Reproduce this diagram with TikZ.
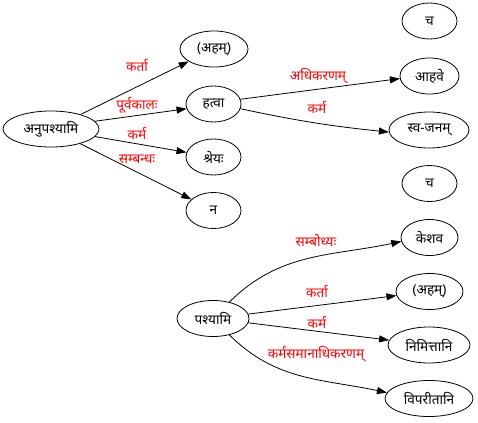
\documentclass[tikz,border=0pt]{standalone}
\usepackage{fontspec}
\newfontfamily\deva[Script=Devanagari]{Noto Sans}
\usetikzlibrary{shapes.geometric,arrows.meta}
\definecolor{ink}{HTML}{000000}
\definecolor{karaka}{HTML}{FF0000}
\newcommand{\word}[4]{\node[ellipse,draw=ink,line width=0.8pt,inner sep=0pt,minimum width=#4pt,minimum height=36pt] (#1) at (#2) {#3};}
\newcommand{\role}[3]{\node[text=karaka,inner sep=1pt] (#1) at (#2) {#3};}

\begin{document}
\begin{tikzpicture}[x=1pt,y=-1pt,font=\deva\fontsize{13.6}{15}\selectfont,>={Triangle[length=10pt,width=7pt]},every path/.style={line width=0.8pt}]
\useasboundingbox (0,0) rectangle (478,422);
\word{anupashyami}{51,129}{अनुपश्यामि}{96}
\word{aham}{214,49}{(अहम्)}{68}
\word{hatva}{213.5,104}{हत्वा}{55}
\word{shreyah}{213.5,157}{श्रेयः}{55}
\word{na}{213.5,210.5}{न}{55}
\word{ca}{429.5,21}{च}{55}
\word{ahave}{429.5,76}{आहवे}{59}
\word{svajanam}{429,130}{स्व-जनम्}{80}
\word{cab}{429.5,183.5}{च}{55}
\word{keshava}{429.5,237.5}{केशव}{57}
\word{ahamb}{429.5,291.5}{(अहम्)}{67}
\word{nimittani}{429,345}{निमित्तानि}{82}
\word{viparitani}{429,398.5}{विपरीतानि}{88}
\word{pashyami}{213,318.5}{पश्यामि}{72}
\role{kartaa}{137,66}{कर्ता}
\role{purvakala}{137,105}{पूर्वकालः}
\role{karmaa}{137,133}{कर्म}
\role{sambandha}{137,159}{सम्बन्धः}
\role{adhikarana}{318,76}{अधिकरणम्}
\role{karmab}{317,107}{कर्म}
\role{sambodhya}{316,241}{सम्बोध्यः}
\role{kartab}{317,291}{कर्ता}
\role{karmac}{317,322}{कर्म}
\role{samanadhi}{316,354}{कर्मसमानाधिकरणम्}
\draw[->] (anupashyami) -- (aham);
\draw[->] (anupashyami.10) -- (hatva.190);
\draw[->] (anupashyami) -- (shreyah);
\draw[->] (anupashyami) -- (na);
\draw[->] (hatva.10) -- (ahave.185);
\draw[->] (hatva.-10) to[bend right=3] (svajanam.183);
\draw[->] (pashyami.45) to[out=45,in=192] (keshava.188);
\draw[->] (pashyami) -- (ahamb);
\draw[->] (pashyami) -- (nimittani);
\draw[->] (pashyami.-45) to[out=-45,in=168] (viparitani.172);
\end{tikzpicture}
\end{document}
